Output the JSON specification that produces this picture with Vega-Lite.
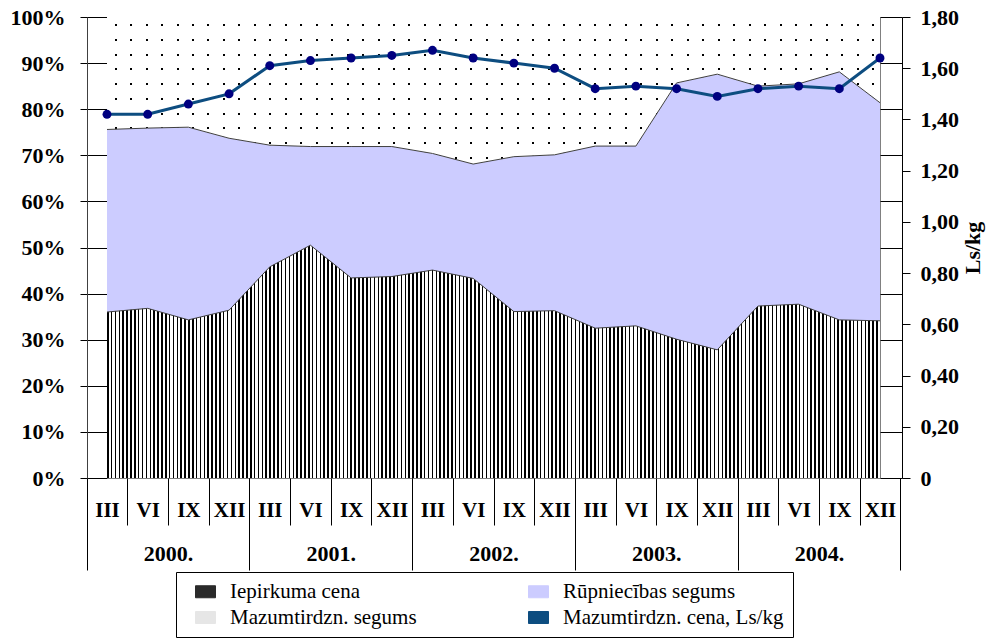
{
"$schema": "https://vega.github.io/schema/vega-lite/v6.json",
"width": 773, "height": 461,
"padding": {"left": 10, "top": 6, "right": 5, "bottom": 2},
"background": "white",
"config": {
  "view": {"stroke": "#808080", "strokeWidth": 1},
  "font": "Liberation Serif",
  "axis": {"labelFont": "Liberation Serif", "titleFont": "Liberation Serif", "labelColor": "#000", "titleColor": "#000", "tickColor": "#000", "domainColor": "#000", "grid": false}
},
"data": {"values": [
  {"periods": "2000-1", "gads": "2000", "ceturksnis": "III", "iep": 36.0, "rup": 39.6, "maz": 24.4, "cena": 1.42},
  {"periods": "2000-2", "gads": "2000", "ceturksnis": "VI", "iep": 36.8, "rup": 39.1, "maz": 24.1, "cena": 1.42},
  {"periods": "2000-3", "gads": "2000", "ceturksnis": "IX", "iep": 34.3, "rup": 41.8, "maz": 23.9, "cena": 1.46},
  {"periods": "2000-4", "gads": "2000", "ceturksnis": "XII", "iep": 36.4, "rup": 37.3, "maz": 26.3, "cena": 1.50},
  {"periods": "2001-1", "gads": "2001", "ceturksnis": "III", "iep": 45.8, "rup": 26.4, "maz": 27.8, "cena": 1.61},
  {"periods": "2001-2", "gads": "2001", "ceturksnis": "VI", "iep": 50.5, "rup": 21.4, "maz": 28.1, "cena": 1.63},
  {"periods": "2001-3", "gads": "2001", "ceturksnis": "IX", "iep": 43.4, "rup": 28.5, "maz": 28.1, "cena": 1.64},
  {"periods": "2001-4", "gads": "2001", "ceturksnis": "XII", "iep": 43.7, "rup": 28.2, "maz": 28.1, "cena": 1.65},
  {"periods": "2002-1", "gads": "2002", "ceturksnis": "III", "iep": 45.1, "rup": 25.3, "maz": 29.6, "cena": 1.67},
  {"periods": "2002-2", "gads": "2002", "ceturksnis": "VI", "iep": 43.3, "rup": 24.8, "maz": 31.9, "cena": 1.64},
  {"periods": "2002-3", "gads": "2002", "ceturksnis": "IX", "iep": 36.1, "rup": 33.6, "maz": 30.3, "cena": 1.62},
  {"periods": "2002-4", "gads": "2002", "ceturksnis": "XII", "iep": 36.3, "rup": 33.8, "maz": 29.9, "cena": 1.60},
  {"periods": "2003-1", "gads": "2003", "ceturksnis": "III", "iep": 32.5, "rup": 39.5, "maz": 28.0, "cena": 1.52},
  {"periods": "2003-2", "gads": "2003", "ceturksnis": "VI", "iep": 33.0, "rup": 39.0, "maz": 28.0, "cena": 1.53},
  {"periods": "2003-3", "gads": "2003", "ceturksnis": "IX", "iep": 30.1, "rup": 55.6, "maz": 14.3, "cena": 1.52},
  {"periods": "2003-4", "gads": "2003", "ceturksnis": "XII", "iep": 27.8, "rup": 59.8, "maz": 12.4, "cena": 1.49},
  {"periods": "2004-1", "gads": "2004", "ceturksnis": "III", "iep": 37.3, "rup": 47.7, "maz": 15.0, "cena": 1.52},
  {"periods": "2004-2", "gads": "2004", "ceturksnis": "VI", "iep": 37.7, "rup": 47.8, "maz": 14.5, "cena": 1.53},
  {"periods": "2004-3", "gads": "2004", "ceturksnis": "IX", "iep": 34.3, "rup": 53.8, "maz": 11.9, "cena": 1.52},
  {"periods": "2004-4", "gads": "2004", "ceturksnis": "XII", "iep": 34.1, "rup": 47.3, "maz": 18.6, "cena": 1.64}
]},
"layer": [
  {
    "transform": [
      {"fold": ["iep", "rup", "maz"], "as": ["serija", "vertiba"]},
      {"stack": "vertiba", "groupby": ["periods"], "as": ["v0", "v1"]}
    ],
    "mark": {"type": "area", "strokeWidth": 0, "opacity": 1},
    "encoding": {
      "x": {"field": "periods", "type": "ordinal", "sort": "ascending", "scale": {"type": "point", "padding": 0},
        "axis": {"orient": "bottom", "offset": 0, "title": null, "domain": false, "ticks": false, "labelAngle": 0, "labelOverlap": false,
          "labelExpr": "['III','VI','IX','XII'][toNumber(split(datum.value,'-')[1]) - 1]",
          "labelFont": "Liberation Serif", "labelFontWeight": "bold", "labelFontSize": 21, "labelPadding": 21}},
      "y": {"field": "v1", "type": "quantitative", "stack": null, "scale": {"domain": [0, 100], "nice": false},
        "axis": {"orient": "left", "offset": 0, "title": null, "values": [0, 10, 20, 30, 40, 50, 60, 70, 80, 90, 100],
          "labelExpr": "datum.value + '%'", "tickSize": 27, "labelPadding": 15, "domain": true, "domainColor": "#808080",
          "labelFontWeight": "bold", "labelFontSize": 22}},
      "y2": {"field": "v0"},
      "color": {"field": "serija", "type": "nominal",
        "scale": {"domain": ["iep", "maz", "rup", "cena"], "range": ["#2A2A2A", "#E6E6E6", "#CCCCFF", "#0D4D80"]},
        "legend": {"orient": "none", "legendX": 69, "legendY": 555, "columns": 2, "columnPadding": 101, "rowPadding": 4,
          "title": null, "strokeColor": "#000", "fillColor": "#fff", "padding": 9,
          "labelFont": "Liberation Serif", "labelFontSize": 21, "labelColor": "#000", "labelOffset": 14, "labelLimit": 400,
          "symbolSize": 400, "symbolOffset": 10, "symbolType": "M-1,-0.6H1V0.6H-1Z", "symbolStrokeColor": "#000", "symbolStrokeWidth": 1,
          "labelExpr": "datum.label == 'iep' ? 'Iepirkuma cena' : datum.label == 'rup' ? 'Rūpniecības segums' : datum.label == 'maz' ? 'Mazumtirdzn. segums' : 'Mazumtirdzn. cena, Ls/kg'"
        }}
    }
  },
  {
    "transform": [
      {"fold": ["iep", "rup", "maz"], "as": ["serija", "vertiba"]},
      {"stack": "vertiba", "groupby": ["periods"], "as": ["v0", "v1"]},
      {"filter": "datum.serija == 'maz'"}
    ],
    "mark": {"type": "area", "strokeWidth": 0, "fill": {"gradient": "linear", "x1": 0, "y1": 0, "x2": 1, "y2": 0, "stops": [
{"offset":0,"color":"#fff"},
{"offset":0.01,"color":"#fff"},{"offset":0.01,"color":"#000"},{"offset":0.0126,"color":"#000"},{"offset":0.0126,"color":"#fff"},
{"offset":0.03,"color":"#fff"},{"offset":0.03,"color":"#000"},{"offset":0.0326,"color":"#000"},{"offset":0.0326,"color":"#fff"},
{"offset":0.05,"color":"#fff"},{"offset":0.05,"color":"#000"},{"offset":0.0526,"color":"#000"},{"offset":0.0526,"color":"#fff"},
{"offset":0.07,"color":"#fff"},{"offset":0.07,"color":"#000"},{"offset":0.0726,"color":"#000"},{"offset":0.0726,"color":"#fff"},
{"offset":0.09,"color":"#fff"},{"offset":0.09,"color":"#000"},{"offset":0.0926,"color":"#000"},{"offset":0.0926,"color":"#fff"},
{"offset":0.11,"color":"#fff"},{"offset":0.11,"color":"#000"},{"offset":0.1126,"color":"#000"},{"offset":0.1126,"color":"#fff"},
{"offset":0.13,"color":"#fff"},{"offset":0.13,"color":"#000"},{"offset":0.1326,"color":"#000"},{"offset":0.1326,"color":"#fff"},
{"offset":0.15,"color":"#fff"},{"offset":0.15,"color":"#000"},{"offset":0.1526,"color":"#000"},{"offset":0.1526,"color":"#fff"},
{"offset":0.17,"color":"#fff"},{"offset":0.17,"color":"#000"},{"offset":0.1726,"color":"#000"},{"offset":0.1726,"color":"#fff"},
{"offset":0.19,"color":"#fff"},{"offset":0.19,"color":"#000"},{"offset":0.1926,"color":"#000"},{"offset":0.1926,"color":"#fff"},
{"offset":0.21,"color":"#fff"},{"offset":0.21,"color":"#000"},{"offset":0.2126,"color":"#000"},{"offset":0.2126,"color":"#fff"},
{"offset":0.23,"color":"#fff"},{"offset":0.23,"color":"#000"},{"offset":0.2326,"color":"#000"},{"offset":0.2326,"color":"#fff"},
{"offset":0.25,"color":"#fff"},{"offset":0.25,"color":"#000"},{"offset":0.2526,"color":"#000"},{"offset":0.2526,"color":"#fff"},
{"offset":0.27,"color":"#fff"},{"offset":0.27,"color":"#000"},{"offset":0.2726,"color":"#000"},{"offset":0.2726,"color":"#fff"},
{"offset":0.29,"color":"#fff"},{"offset":0.29,"color":"#000"},{"offset":0.2926,"color":"#000"},{"offset":0.2926,"color":"#fff"},
{"offset":0.31,"color":"#fff"},{"offset":0.31,"color":"#000"},{"offset":0.3126,"color":"#000"},{"offset":0.3126,"color":"#fff"},
{"offset":0.33,"color":"#fff"},{"offset":0.33,"color":"#000"},{"offset":0.3326,"color":"#000"},{"offset":0.3326,"color":"#fff"},
{"offset":0.35,"color":"#fff"},{"offset":0.35,"color":"#000"},{"offset":0.3526,"color":"#000"},{"offset":0.3526,"color":"#fff"},
{"offset":0.37,"color":"#fff"},{"offset":0.37,"color":"#000"},{"offset":0.3726,"color":"#000"},{"offset":0.3726,"color":"#fff"},
{"offset":0.39,"color":"#fff"},{"offset":0.39,"color":"#000"},{"offset":0.3926,"color":"#000"},{"offset":0.3926,"color":"#fff"},
{"offset":0.41,"color":"#fff"},{"offset":0.41,"color":"#000"},{"offset":0.4126,"color":"#000"},{"offset":0.4126,"color":"#fff"},
{"offset":0.43,"color":"#fff"},{"offset":0.43,"color":"#000"},{"offset":0.4326,"color":"#000"},{"offset":0.4326,"color":"#fff"},
{"offset":0.45,"color":"#fff"},{"offset":0.45,"color":"#000"},{"offset":0.4526,"color":"#000"},{"offset":0.4526,"color":"#fff"},
{"offset":0.47,"color":"#fff"},{"offset":0.47,"color":"#000"},{"offset":0.4726,"color":"#000"},{"offset":0.4726,"color":"#fff"},
{"offset":0.49,"color":"#fff"},{"offset":0.49,"color":"#000"},{"offset":0.4926,"color":"#000"},{"offset":0.4926,"color":"#fff"},
{"offset":0.51,"color":"#fff"},{"offset":0.51,"color":"#000"},{"offset":0.5126,"color":"#000"},{"offset":0.5126,"color":"#fff"},
{"offset":0.53,"color":"#fff"},{"offset":0.53,"color":"#000"},{"offset":0.5326,"color":"#000"},{"offset":0.5326,"color":"#fff"},
{"offset":0.55,"color":"#fff"},{"offset":0.55,"color":"#000"},{"offset":0.5526,"color":"#000"},{"offset":0.5526,"color":"#fff"},
{"offset":0.57,"color":"#fff"},{"offset":0.57,"color":"#000"},{"offset":0.5726,"color":"#000"},{"offset":0.5726,"color":"#fff"},
{"offset":0.59,"color":"#fff"},{"offset":0.59,"color":"#000"},{"offset":0.5926,"color":"#000"},{"offset":0.5926,"color":"#fff"},
{"offset":0.61,"color":"#fff"},{"offset":0.61,"color":"#000"},{"offset":0.6126,"color":"#000"},{"offset":0.6126,"color":"#fff"},
{"offset":0.63,"color":"#fff"},{"offset":0.63,"color":"#000"},{"offset":0.6326,"color":"#000"},{"offset":0.6326,"color":"#fff"},
{"offset":0.65,"color":"#fff"},{"offset":0.65,"color":"#000"},{"offset":0.6526,"color":"#000"},{"offset":0.6526,"color":"#fff"},
{"offset":0.67,"color":"#fff"},{"offset":0.67,"color":"#000"},{"offset":0.6726,"color":"#000"},{"offset":0.6726,"color":"#fff"},
{"offset":0.69,"color":"#fff"},{"offset":0.69,"color":"#000"},{"offset":0.6926,"color":"#000"},{"offset":0.6926,"color":"#fff"},
{"offset":0.71,"color":"#fff"},{"offset":0.71,"color":"#000"},{"offset":0.7126,"color":"#000"},{"offset":0.7126,"color":"#fff"},
{"offset":0.73,"color":"#fff"},{"offset":0.73,"color":"#000"},{"offset":0.7326,"color":"#000"},{"offset":0.7326,"color":"#fff"},
{"offset":0.75,"color":"#fff"},{"offset":0.75,"color":"#000"},{"offset":0.7526,"color":"#000"},{"offset":0.7526,"color":"#fff"},
{"offset":0.77,"color":"#fff"},{"offset":0.77,"color":"#000"},{"offset":0.7726,"color":"#000"},{"offset":0.7726,"color":"#fff"},
{"offset":0.79,"color":"#fff"},{"offset":0.79,"color":"#000"},{"offset":0.7926,"color":"#000"},{"offset":0.7926,"color":"#fff"},
{"offset":0.81,"color":"#fff"},{"offset":0.81,"color":"#000"},{"offset":0.8126,"color":"#000"},{"offset":0.8126,"color":"#fff"},
{"offset":0.83,"color":"#fff"},{"offset":0.83,"color":"#000"},{"offset":0.8326,"color":"#000"},{"offset":0.8326,"color":"#fff"},
{"offset":0.85,"color":"#fff"},{"offset":0.85,"color":"#000"},{"offset":0.8526,"color":"#000"},{"offset":0.8526,"color":"#fff"},
{"offset":0.87,"color":"#fff"},{"offset":0.87,"color":"#000"},{"offset":0.8726,"color":"#000"},{"offset":0.8726,"color":"#fff"},
{"offset":0.89,"color":"#fff"},{"offset":0.89,"color":"#000"},{"offset":0.8926,"color":"#000"},{"offset":0.8926,"color":"#fff"},
{"offset":0.91,"color":"#fff"},{"offset":0.91,"color":"#000"},{"offset":0.9126,"color":"#000"},{"offset":0.9126,"color":"#fff"},
{"offset":0.93,"color":"#fff"},{"offset":0.93,"color":"#000"},{"offset":0.9326,"color":"#000"},{"offset":0.9326,"color":"#fff"},
{"offset":0.95,"color":"#fff"},{"offset":0.95,"color":"#000"},{"offset":0.9526,"color":"#000"},{"offset":0.9526,"color":"#fff"},
{"offset":0.97,"color":"#fff"},{"offset":0.97,"color":"#000"},{"offset":0.9726,"color":"#000"},{"offset":0.9726,"color":"#fff"},
{"offset":0.99,"color":"#fff"},{"offset":0.99,"color":"#000"},{"offset":0.9926,"color":"#000"},{"offset":0.9926,"color":"#fff"},
{"offset":1,"color":"#fff"}
    ]}},
    "encoding": {
      "x": {"field": "periods", "type": "ordinal", "sort": "ascending", "scale": {"type": "point", "padding": 0}, "axis": null},
      "y": {"field": "v1", "type": "quantitative", "stack": null, "scale": {"domain": [0, 100], "nice": false}, "axis": null},
      "y2": {"field": "v0"}
    }
  },
  {
    "transform": [
      {"fold": ["iep", "rup", "maz"], "as": ["serija", "vertiba"]},
      {"stack": "vertiba", "groupby": ["periods"], "as": ["v0", "v1"]},
      {"filter": "datum.serija == 'maz'"}
    ],
    "mark": {"type": "area", "strokeWidth": 0, "fill": {"gradient": "linear", "x1": 0, "y1": 0, "x2": 0, "y2": 1, "stops": [
{"offset":0,"color":"#fff"},
{"offset":0.05,"color":"#fff"},{"offset":0.05,"color":"transparent"},{"offset":0.0636,"color":"transparent"},{"offset":0.0636,"color":"#fff"},
{"offset":0.15,"color":"#fff"},{"offset":0.15,"color":"transparent"},{"offset":0.1636,"color":"transparent"},{"offset":0.1636,"color":"#fff"},
{"offset":0.25,"color":"#fff"},{"offset":0.25,"color":"transparent"},{"offset":0.2636,"color":"transparent"},{"offset":0.2636,"color":"#fff"},
{"offset":0.35,"color":"#fff"},{"offset":0.35,"color":"transparent"},{"offset":0.3636,"color":"transparent"},{"offset":0.3636,"color":"#fff"},
{"offset":0.45,"color":"#fff"},{"offset":0.45,"color":"transparent"},{"offset":0.4636,"color":"transparent"},{"offset":0.4636,"color":"#fff"},
{"offset":0.55,"color":"#fff"},{"offset":0.55,"color":"transparent"},{"offset":0.5636,"color":"transparent"},{"offset":0.5636,"color":"#fff"},
{"offset":0.65,"color":"#fff"},{"offset":0.65,"color":"transparent"},{"offset":0.6636,"color":"transparent"},{"offset":0.6636,"color":"#fff"},
{"offset":0.75,"color":"#fff"},{"offset":0.75,"color":"transparent"},{"offset":0.7636,"color":"transparent"},{"offset":0.7636,"color":"#fff"},
{"offset":0.85,"color":"#fff"},{"offset":0.85,"color":"transparent"},{"offset":0.8636,"color":"transparent"},{"offset":0.8636,"color":"#fff"},
{"offset":0.95,"color":"#fff"},{"offset":0.95,"color":"transparent"},{"offset":0.9636,"color":"transparent"},{"offset":0.9636,"color":"#fff"},
{"offset":1,"color":"#fff"}
    ]}},
    "encoding": {
      "x": {"field": "periods", "type": "ordinal", "sort": "ascending", "scale": {"type": "point", "padding": 0}, "axis": null},
      "y": {"field": "v1", "type": "quantitative", "stack": null, "scale": {"domain": [0, 100], "nice": false}, "axis": null},
      "y2": {"field": "v0"}
    }
  },
  {
    "mark": {"type": "area", "strokeWidth": 0, "fill": {"gradient": "linear", "x1": 0, "y1": 0, "x2": 1, "y2": 0, "stops": [
{"offset":0.000,"color":"#000"},{"offset":0.002,"color":"#000"},{"offset":0.002,"color":"#fff"},{"offset":0.005,"color":"#fff"},{"offset":0.005,"color":"#000"},{"offset":0.007,"color":"#000"},{"offset":0.007,"color":"#fff"},{"offset":0.010,"color":"#fff"},
{"offset":0.010,"color":"#000"},{"offset":0.012,"color":"#000"},{"offset":0.012,"color":"#fff"},{"offset":0.015,"color":"#fff"},{"offset":0.015,"color":"#000"},{"offset":0.017,"color":"#000"},{"offset":0.017,"color":"#fff"},{"offset":0.020,"color":"#fff"},
{"offset":0.020,"color":"#000"},{"offset":0.022,"color":"#000"},{"offset":0.022,"color":"#fff"},{"offset":0.025,"color":"#fff"},{"offset":0.025,"color":"#000"},{"offset":0.027,"color":"#000"},{"offset":0.027,"color":"#fff"},{"offset":0.030,"color":"#fff"},
{"offset":0.030,"color":"#000"},{"offset":0.032,"color":"#000"},{"offset":0.032,"color":"#fff"},{"offset":0.035,"color":"#fff"},{"offset":0.035,"color":"#000"},{"offset":0.037,"color":"#000"},{"offset":0.037,"color":"#fff"},{"offset":0.040,"color":"#fff"},
{"offset":0.040,"color":"#000"},{"offset":0.042,"color":"#000"},{"offset":0.042,"color":"#fff"},{"offset":0.045,"color":"#fff"},{"offset":0.045,"color":"#000"},{"offset":0.047,"color":"#000"},{"offset":0.047,"color":"#fff"},{"offset":0.050,"color":"#fff"},
{"offset":0.050,"color":"#000"},{"offset":0.052,"color":"#000"},{"offset":0.052,"color":"#fff"},{"offset":0.055,"color":"#fff"},{"offset":0.055,"color":"#000"},{"offset":0.057,"color":"#000"},{"offset":0.057,"color":"#fff"},{"offset":0.060,"color":"#fff"},
{"offset":0.060,"color":"#000"},{"offset":0.062,"color":"#000"},{"offset":0.062,"color":"#fff"},{"offset":0.065,"color":"#fff"},{"offset":0.065,"color":"#000"},{"offset":0.067,"color":"#000"},{"offset":0.067,"color":"#fff"},{"offset":0.070,"color":"#fff"},
{"offset":0.070,"color":"#000"},{"offset":0.072,"color":"#000"},{"offset":0.072,"color":"#fff"},{"offset":0.075,"color":"#fff"},{"offset":0.075,"color":"#000"},{"offset":0.077,"color":"#000"},{"offset":0.077,"color":"#fff"},{"offset":0.080,"color":"#fff"},
{"offset":0.080,"color":"#000"},{"offset":0.082,"color":"#000"},{"offset":0.082,"color":"#fff"},{"offset":0.085,"color":"#fff"},{"offset":0.085,"color":"#000"},{"offset":0.087,"color":"#000"},{"offset":0.087,"color":"#fff"},{"offset":0.090,"color":"#fff"},
{"offset":0.090,"color":"#000"},{"offset":0.092,"color":"#000"},{"offset":0.092,"color":"#fff"},{"offset":0.095,"color":"#fff"},{"offset":0.095,"color":"#000"},{"offset":0.097,"color":"#000"},{"offset":0.097,"color":"#fff"},{"offset":0.100,"color":"#fff"},
{"offset":0.100,"color":"#000"},{"offset":0.102,"color":"#000"},{"offset":0.102,"color":"#fff"},{"offset":0.105,"color":"#fff"},{"offset":0.105,"color":"#000"},{"offset":0.107,"color":"#000"},{"offset":0.107,"color":"#fff"},{"offset":0.110,"color":"#fff"},
{"offset":0.110,"color":"#000"},{"offset":0.112,"color":"#000"},{"offset":0.112,"color":"#fff"},{"offset":0.115,"color":"#fff"},{"offset":0.115,"color":"#000"},{"offset":0.117,"color":"#000"},{"offset":0.117,"color":"#fff"},{"offset":0.120,"color":"#fff"},
{"offset":0.120,"color":"#000"},{"offset":0.122,"color":"#000"},{"offset":0.122,"color":"#fff"},{"offset":0.125,"color":"#fff"},{"offset":0.125,"color":"#000"},{"offset":0.127,"color":"#000"},{"offset":0.127,"color":"#fff"},{"offset":0.130,"color":"#fff"},
{"offset":0.130,"color":"#000"},{"offset":0.132,"color":"#000"},{"offset":0.132,"color":"#fff"},{"offset":0.135,"color":"#fff"},{"offset":0.135,"color":"#000"},{"offset":0.137,"color":"#000"},{"offset":0.137,"color":"#fff"},{"offset":0.140,"color":"#fff"},
{"offset":0.140,"color":"#000"},{"offset":0.142,"color":"#000"},{"offset":0.142,"color":"#fff"},{"offset":0.145,"color":"#fff"},{"offset":0.145,"color":"#000"},{"offset":0.147,"color":"#000"},{"offset":0.147,"color":"#fff"},{"offset":0.150,"color":"#fff"},
{"offset":0.150,"color":"#000"},{"offset":0.152,"color":"#000"},{"offset":0.152,"color":"#fff"},{"offset":0.155,"color":"#fff"},{"offset":0.155,"color":"#000"},{"offset":0.157,"color":"#000"},{"offset":0.157,"color":"#fff"},{"offset":0.160,"color":"#fff"},
{"offset":0.160,"color":"#000"},{"offset":0.162,"color":"#000"},{"offset":0.162,"color":"#fff"},{"offset":0.165,"color":"#fff"},{"offset":0.165,"color":"#000"},{"offset":0.167,"color":"#000"},{"offset":0.167,"color":"#fff"},{"offset":0.170,"color":"#fff"},
{"offset":0.170,"color":"#000"},{"offset":0.172,"color":"#000"},{"offset":0.172,"color":"#fff"},{"offset":0.175,"color":"#fff"},{"offset":0.175,"color":"#000"},{"offset":0.177,"color":"#000"},{"offset":0.177,"color":"#fff"},{"offset":0.180,"color":"#fff"},
{"offset":0.180,"color":"#000"},{"offset":0.182,"color":"#000"},{"offset":0.182,"color":"#fff"},{"offset":0.185,"color":"#fff"},{"offset":0.185,"color":"#000"},{"offset":0.187,"color":"#000"},{"offset":0.187,"color":"#fff"},{"offset":0.190,"color":"#fff"},
{"offset":0.190,"color":"#000"},{"offset":0.192,"color":"#000"},{"offset":0.192,"color":"#fff"},{"offset":0.195,"color":"#fff"},{"offset":0.195,"color":"#000"},{"offset":0.197,"color":"#000"},{"offset":0.197,"color":"#fff"},{"offset":0.200,"color":"#fff"},
{"offset":0.200,"color":"#000"},{"offset":0.202,"color":"#000"},{"offset":0.202,"color":"#fff"},{"offset":0.205,"color":"#fff"},{"offset":0.205,"color":"#000"},{"offset":0.207,"color":"#000"},{"offset":0.207,"color":"#fff"},{"offset":0.210,"color":"#fff"},
{"offset":0.210,"color":"#000"},{"offset":0.212,"color":"#000"},{"offset":0.212,"color":"#fff"},{"offset":0.215,"color":"#fff"},{"offset":0.215,"color":"#000"},{"offset":0.217,"color":"#000"},{"offset":0.217,"color":"#fff"},{"offset":0.220,"color":"#fff"},
{"offset":0.220,"color":"#000"},{"offset":0.222,"color":"#000"},{"offset":0.222,"color":"#fff"},{"offset":0.225,"color":"#fff"},{"offset":0.225,"color":"#000"},{"offset":0.227,"color":"#000"},{"offset":0.227,"color":"#fff"},{"offset":0.230,"color":"#fff"},
{"offset":0.230,"color":"#000"},{"offset":0.232,"color":"#000"},{"offset":0.232,"color":"#fff"},{"offset":0.235,"color":"#fff"},{"offset":0.235,"color":"#000"},{"offset":0.237,"color":"#000"},{"offset":0.237,"color":"#fff"},{"offset":0.240,"color":"#fff"},
{"offset":0.240,"color":"#000"},{"offset":0.242,"color":"#000"},{"offset":0.242,"color":"#fff"},{"offset":0.245,"color":"#fff"},{"offset":0.245,"color":"#000"},{"offset":0.247,"color":"#000"},{"offset":0.247,"color":"#fff"},{"offset":0.250,"color":"#fff"},
{"offset":0.250,"color":"#000"},{"offset":0.252,"color":"#000"},{"offset":0.252,"color":"#fff"},{"offset":0.255,"color":"#fff"},{"offset":0.255,"color":"#000"},{"offset":0.257,"color":"#000"},{"offset":0.257,"color":"#fff"},{"offset":0.260,"color":"#fff"},
{"offset":0.260,"color":"#000"},{"offset":0.262,"color":"#000"},{"offset":0.262,"color":"#fff"},{"offset":0.265,"color":"#fff"},{"offset":0.265,"color":"#000"},{"offset":0.267,"color":"#000"},{"offset":0.267,"color":"#fff"},{"offset":0.270,"color":"#fff"},
{"offset":0.270,"color":"#000"},{"offset":0.272,"color":"#000"},{"offset":0.272,"color":"#fff"},{"offset":0.275,"color":"#fff"},{"offset":0.275,"color":"#000"},{"offset":0.277,"color":"#000"},{"offset":0.277,"color":"#fff"},{"offset":0.280,"color":"#fff"},
{"offset":0.280,"color":"#000"},{"offset":0.282,"color":"#000"},{"offset":0.282,"color":"#fff"},{"offset":0.285,"color":"#fff"},{"offset":0.285,"color":"#000"},{"offset":0.287,"color":"#000"},{"offset":0.287,"color":"#fff"},{"offset":0.290,"color":"#fff"},
{"offset":0.290,"color":"#000"},{"offset":0.292,"color":"#000"},{"offset":0.292,"color":"#fff"},{"offset":0.295,"color":"#fff"},{"offset":0.295,"color":"#000"},{"offset":0.297,"color":"#000"},{"offset":0.297,"color":"#fff"},{"offset":0.300,"color":"#fff"},
{"offset":0.300,"color":"#000"},{"offset":0.302,"color":"#000"},{"offset":0.302,"color":"#fff"},{"offset":0.305,"color":"#fff"},{"offset":0.305,"color":"#000"},{"offset":0.307,"color":"#000"},{"offset":0.307,"color":"#fff"},{"offset":0.310,"color":"#fff"},
{"offset":0.310,"color":"#000"},{"offset":0.312,"color":"#000"},{"offset":0.312,"color":"#fff"},{"offset":0.315,"color":"#fff"},{"offset":0.315,"color":"#000"},{"offset":0.317,"color":"#000"},{"offset":0.317,"color":"#fff"},{"offset":0.320,"color":"#fff"},
{"offset":0.320,"color":"#000"},{"offset":0.322,"color":"#000"},{"offset":0.322,"color":"#fff"},{"offset":0.325,"color":"#fff"},{"offset":0.325,"color":"#000"},{"offset":0.327,"color":"#000"},{"offset":0.327,"color":"#fff"},{"offset":0.330,"color":"#fff"},
{"offset":0.330,"color":"#000"},{"offset":0.332,"color":"#000"},{"offset":0.332,"color":"#fff"},{"offset":0.335,"color":"#fff"},{"offset":0.335,"color":"#000"},{"offset":0.337,"color":"#000"},{"offset":0.337,"color":"#fff"},{"offset":0.340,"color":"#fff"},
{"offset":0.340,"color":"#000"},{"offset":0.342,"color":"#000"},{"offset":0.342,"color":"#fff"},{"offset":0.345,"color":"#fff"},{"offset":0.345,"color":"#000"},{"offset":0.347,"color":"#000"},{"offset":0.347,"color":"#fff"},{"offset":0.350,"color":"#fff"},
{"offset":0.350,"color":"#000"},{"offset":0.352,"color":"#000"},{"offset":0.352,"color":"#fff"},{"offset":0.355,"color":"#fff"},{"offset":0.355,"color":"#000"},{"offset":0.357,"color":"#000"},{"offset":0.357,"color":"#fff"},{"offset":0.360,"color":"#fff"},
{"offset":0.360,"color":"#000"},{"offset":0.362,"color":"#000"},{"offset":0.362,"color":"#fff"},{"offset":0.365,"color":"#fff"},{"offset":0.365,"color":"#000"},{"offset":0.367,"color":"#000"},{"offset":0.367,"color":"#fff"},{"offset":0.370,"color":"#fff"},
{"offset":0.370,"color":"#000"},{"offset":0.372,"color":"#000"},{"offset":0.372,"color":"#fff"},{"offset":0.375,"color":"#fff"},{"offset":0.375,"color":"#000"},{"offset":0.377,"color":"#000"},{"offset":0.377,"color":"#fff"},{"offset":0.380,"color":"#fff"},
{"offset":0.380,"color":"#000"},{"offset":0.382,"color":"#000"},{"offset":0.382,"color":"#fff"},{"offset":0.385,"color":"#fff"},{"offset":0.385,"color":"#000"},{"offset":0.387,"color":"#000"},{"offset":0.387,"color":"#fff"},{"offset":0.390,"color":"#fff"},
{"offset":0.390,"color":"#000"},{"offset":0.392,"color":"#000"},{"offset":0.392,"color":"#fff"},{"offset":0.395,"color":"#fff"},{"offset":0.395,"color":"#000"},{"offset":0.397,"color":"#000"},{"offset":0.397,"color":"#fff"},{"offset":0.400,"color":"#fff"},
{"offset":0.400,"color":"#000"},{"offset":0.402,"color":"#000"},{"offset":0.402,"color":"#fff"},{"offset":0.405,"color":"#fff"},{"offset":0.405,"color":"#000"},{"offset":0.407,"color":"#000"},{"offset":0.407,"color":"#fff"},{"offset":0.410,"color":"#fff"},
{"offset":0.410,"color":"#000"},{"offset":0.412,"color":"#000"},{"offset":0.412,"color":"#fff"},{"offset":0.415,"color":"#fff"},{"offset":0.415,"color":"#000"},{"offset":0.417,"color":"#000"},{"offset":0.417,"color":"#fff"},{"offset":0.420,"color":"#fff"},
{"offset":0.420,"color":"#000"},{"offset":0.422,"color":"#000"},{"offset":0.422,"color":"#fff"},{"offset":0.425,"color":"#fff"},{"offset":0.425,"color":"#000"},{"offset":0.427,"color":"#000"},{"offset":0.427,"color":"#fff"},{"offset":0.430,"color":"#fff"},
{"offset":0.430,"color":"#000"},{"offset":0.432,"color":"#000"},{"offset":0.432,"color":"#fff"},{"offset":0.435,"color":"#fff"},{"offset":0.435,"color":"#000"},{"offset":0.437,"color":"#000"},{"offset":0.437,"color":"#fff"},{"offset":0.440,"color":"#fff"},
{"offset":0.440,"color":"#000"},{"offset":0.442,"color":"#000"},{"offset":0.442,"color":"#fff"},{"offset":0.445,"color":"#fff"},{"offset":0.445,"color":"#000"},{"offset":0.447,"color":"#000"},{"offset":0.447,"color":"#fff"},{"offset":0.450,"color":"#fff"},
{"offset":0.450,"color":"#000"},{"offset":0.452,"color":"#000"},{"offset":0.452,"color":"#fff"},{"offset":0.455,"color":"#fff"},{"offset":0.455,"color":"#000"},{"offset":0.457,"color":"#000"},{"offset":0.457,"color":"#fff"},{"offset":0.460,"color":"#fff"},
{"offset":0.460,"color":"#000"},{"offset":0.462,"color":"#000"},{"offset":0.462,"color":"#fff"},{"offset":0.465,"color":"#fff"},{"offset":0.465,"color":"#000"},{"offset":0.467,"color":"#000"},{"offset":0.467,"color":"#fff"},{"offset":0.470,"color":"#fff"},
{"offset":0.470,"color":"#000"},{"offset":0.472,"color":"#000"},{"offset":0.472,"color":"#fff"},{"offset":0.475,"color":"#fff"},{"offset":0.475,"color":"#000"},{"offset":0.477,"color":"#000"},{"offset":0.477,"color":"#fff"},{"offset":0.480,"color":"#fff"},
{"offset":0.480,"color":"#000"},{"offset":0.482,"color":"#000"},{"offset":0.482,"color":"#fff"},{"offset":0.485,"color":"#fff"},{"offset":0.485,"color":"#000"},{"offset":0.487,"color":"#000"},{"offset":0.487,"color":"#fff"},{"offset":0.490,"color":"#fff"},
{"offset":0.490,"color":"#000"},{"offset":0.492,"color":"#000"},{"offset":0.492,"color":"#fff"},{"offset":0.495,"color":"#fff"},{"offset":0.495,"color":"#000"},{"offset":0.497,"color":"#000"},{"offset":0.497,"color":"#fff"},{"offset":0.500,"color":"#fff"},
{"offset":0.500,"color":"#000"},{"offset":0.502,"color":"#000"},{"offset":0.502,"color":"#fff"},{"offset":0.505,"color":"#fff"},{"offset":0.505,"color":"#000"},{"offset":0.507,"color":"#000"},{"offset":0.507,"color":"#fff"},{"offset":0.510,"color":"#fff"},
{"offset":0.510,"color":"#000"},{"offset":0.512,"color":"#000"},{"offset":0.512,"color":"#fff"},{"offset":0.515,"color":"#fff"},{"offset":0.515,"color":"#000"},{"offset":0.517,"color":"#000"},{"offset":0.517,"color":"#fff"},{"offset":0.520,"color":"#fff"},
{"offset":0.520,"color":"#000"},{"offset":0.522,"color":"#000"},{"offset":0.522,"color":"#fff"},{"offset":0.525,"color":"#fff"},{"offset":0.525,"color":"#000"},{"offset":0.527,"color":"#000"},{"offset":0.527,"color":"#fff"},{"offset":0.530,"color":"#fff"},
{"offset":0.530,"color":"#000"},{"offset":0.532,"color":"#000"},{"offset":0.532,"color":"#fff"},{"offset":0.535,"color":"#fff"},{"offset":0.535,"color":"#000"},{"offset":0.537,"color":"#000"},{"offset":0.537,"color":"#fff"},{"offset":0.540,"color":"#fff"},
{"offset":0.540,"color":"#000"},{"offset":0.542,"color":"#000"},{"offset":0.542,"color":"#fff"},{"offset":0.545,"color":"#fff"},{"offset":0.545,"color":"#000"},{"offset":0.547,"color":"#000"},{"offset":0.547,"color":"#fff"},{"offset":0.550,"color":"#fff"},
{"offset":0.550,"color":"#000"},{"offset":0.552,"color":"#000"},{"offset":0.552,"color":"#fff"},{"offset":0.555,"color":"#fff"},{"offset":0.555,"color":"#000"},{"offset":0.557,"color":"#000"},{"offset":0.557,"color":"#fff"},{"offset":0.560,"color":"#fff"},
{"offset":0.560,"color":"#000"},{"offset":0.562,"color":"#000"},{"offset":0.562,"color":"#fff"},{"offset":0.565,"color":"#fff"},{"offset":0.565,"color":"#000"},{"offset":0.567,"color":"#000"},{"offset":0.567,"color":"#fff"},{"offset":0.570,"color":"#fff"},
{"offset":0.570,"color":"#000"},{"offset":0.572,"color":"#000"},{"offset":0.572,"color":"#fff"},{"offset":0.575,"color":"#fff"},{"offset":0.575,"color":"#000"},{"offset":0.577,"color":"#000"},{"offset":0.577,"color":"#fff"},{"offset":0.580,"color":"#fff"},
{"offset":0.580,"color":"#000"},{"offset":0.582,"color":"#000"},{"offset":0.582,"color":"#fff"},{"offset":0.585,"color":"#fff"},{"offset":0.585,"color":"#000"},{"offset":0.587,"color":"#000"},{"offset":0.587,"color":"#fff"},{"offset":0.590,"color":"#fff"},
{"offset":0.590,"color":"#000"},{"offset":0.592,"color":"#000"},{"offset":0.592,"color":"#fff"},{"offset":0.595,"color":"#fff"},{"offset":0.595,"color":"#000"},{"offset":0.597,"color":"#000"},{"offset":0.597,"color":"#fff"},{"offset":0.600,"color":"#fff"},
{"offset":0.600,"color":"#000"},{"offset":0.602,"color":"#000"},{"offset":0.602,"color":"#fff"},{"offset":0.605,"color":"#fff"},{"offset":0.605,"color":"#000"},{"offset":0.607,"color":"#000"},{"offset":0.607,"color":"#fff"},{"offset":0.610,"color":"#fff"},
{"offset":0.610,"color":"#000"},{"offset":0.612,"color":"#000"},{"offset":0.612,"color":"#fff"},{"offset":0.615,"color":"#fff"},{"offset":0.615,"color":"#000"},{"offset":0.617,"color":"#000"},{"offset":0.617,"color":"#fff"},{"offset":0.620,"color":"#fff"},
{"offset":0.620,"color":"#000"},{"offset":0.622,"color":"#000"},{"offset":0.622,"color":"#fff"},{"offset":0.625,"color":"#fff"},{"offset":0.625,"color":"#000"},{"offset":0.627,"color":"#000"},{"offset":0.627,"color":"#fff"},{"offset":0.630,"color":"#fff"},
{"offset":0.630,"color":"#000"},{"offset":0.632,"color":"#000"},{"offset":0.632,"color":"#fff"},{"offset":0.635,"color":"#fff"},{"offset":0.635,"color":"#000"},{"offset":0.637,"color":"#000"},{"offset":0.637,"color":"#fff"},{"offset":0.640,"color":"#fff"},
{"offset":0.640,"color":"#000"},{"offset":0.642,"color":"#000"},{"offset":0.642,"color":"#fff"},{"offset":0.645,"color":"#fff"},{"offset":0.645,"color":"#000"},{"offset":0.647,"color":"#000"},{"offset":0.647,"color":"#fff"},{"offset":0.650,"color":"#fff"},
{"offset":0.650,"color":"#000"},{"offset":0.652,"color":"#000"},{"offset":0.652,"color":"#fff"},{"offset":0.655,"color":"#fff"},{"offset":0.655,"color":"#000"},{"offset":0.657,"color":"#000"},{"offset":0.657,"color":"#fff"},{"offset":0.660,"color":"#fff"},
{"offset":0.660,"color":"#000"},{"offset":0.662,"color":"#000"},{"offset":0.662,"color":"#fff"},{"offset":0.665,"color":"#fff"},{"offset":0.665,"color":"#000"},{"offset":0.667,"color":"#000"},{"offset":0.667,"color":"#fff"},{"offset":0.670,"color":"#fff"},
{"offset":0.670,"color":"#000"},{"offset":0.672,"color":"#000"},{"offset":0.672,"color":"#fff"},{"offset":0.675,"color":"#fff"},{"offset":0.675,"color":"#000"},{"offset":0.677,"color":"#000"},{"offset":0.677,"color":"#fff"},{"offset":0.680,"color":"#fff"},
{"offset":0.680,"color":"#000"},{"offset":0.682,"color":"#000"},{"offset":0.682,"color":"#fff"},{"offset":0.685,"color":"#fff"},{"offset":0.685,"color":"#000"},{"offset":0.687,"color":"#000"},{"offset":0.687,"color":"#fff"},{"offset":0.690,"color":"#fff"},
{"offset":0.690,"color":"#000"},{"offset":0.692,"color":"#000"},{"offset":0.692,"color":"#fff"},{"offset":0.695,"color":"#fff"},{"offset":0.695,"color":"#000"},{"offset":0.697,"color":"#000"},{"offset":0.697,"color":"#fff"},{"offset":0.700,"color":"#fff"},
{"offset":0.700,"color":"#000"},{"offset":0.702,"color":"#000"},{"offset":0.702,"color":"#fff"},{"offset":0.705,"color":"#fff"},{"offset":0.705,"color":"#000"},{"offset":0.707,"color":"#000"},{"offset":0.707,"color":"#fff"},{"offset":0.710,"color":"#fff"},
{"offset":0.710,"color":"#000"},{"offset":0.712,"color":"#000"},{"offset":0.712,"color":"#fff"},{"offset":0.715,"color":"#fff"},{"offset":0.715,"color":"#000"},{"offset":0.717,"color":"#000"},{"offset":0.717,"color":"#fff"},{"offset":0.720,"color":"#fff"},
{"offset":0.720,"color":"#000"},{"offset":0.722,"color":"#000"},{"offset":0.722,"color":"#fff"},{"offset":0.725,"color":"#fff"},{"offset":0.725,"color":"#000"},{"offset":0.727,"color":"#000"},{"offset":0.727,"color":"#fff"},{"offset":0.730,"color":"#fff"},
{"offset":0.730,"color":"#000"},{"offset":0.732,"color":"#000"},{"offset":0.732,"color":"#fff"},{"offset":0.735,"color":"#fff"},{"offset":0.735,"color":"#000"},{"offset":0.737,"color":"#000"},{"offset":0.737,"color":"#fff"},{"offset":0.740,"color":"#fff"},
{"offset":0.740,"color":"#000"},{"offset":0.742,"color":"#000"},{"offset":0.742,"color":"#fff"},{"offset":0.745,"color":"#fff"},{"offset":0.745,"color":"#000"},{"offset":0.747,"color":"#000"},{"offset":0.747,"color":"#fff"},{"offset":0.750,"color":"#fff"},
{"offset":0.750,"color":"#000"},{"offset":0.752,"color":"#000"},{"offset":0.752,"color":"#fff"},{"offset":0.755,"color":"#fff"},{"offset":0.755,"color":"#000"},{"offset":0.757,"color":"#000"},{"offset":0.757,"color":"#fff"},{"offset":0.760,"color":"#fff"},
{"offset":0.760,"color":"#000"},{"offset":0.762,"color":"#000"},{"offset":0.762,"color":"#fff"},{"offset":0.765,"color":"#fff"},{"offset":0.765,"color":"#000"},{"offset":0.767,"color":"#000"},{"offset":0.767,"color":"#fff"},{"offset":0.770,"color":"#fff"},
{"offset":0.770,"color":"#000"},{"offset":0.772,"color":"#000"},{"offset":0.772,"color":"#fff"},{"offset":0.775,"color":"#fff"},{"offset":0.775,"color":"#000"},{"offset":0.777,"color":"#000"},{"offset":0.777,"color":"#fff"},{"offset":0.780,"color":"#fff"},
{"offset":0.780,"color":"#000"},{"offset":0.782,"color":"#000"},{"offset":0.782,"color":"#fff"},{"offset":0.785,"color":"#fff"},{"offset":0.785,"color":"#000"},{"offset":0.787,"color":"#000"},{"offset":0.787,"color":"#fff"},{"offset":0.790,"color":"#fff"},
{"offset":0.790,"color":"#000"},{"offset":0.792,"color":"#000"},{"offset":0.792,"color":"#fff"},{"offset":0.795,"color":"#fff"},{"offset":0.795,"color":"#000"},{"offset":0.797,"color":"#000"},{"offset":0.797,"color":"#fff"},{"offset":0.800,"color":"#fff"},
{"offset":0.800,"color":"#000"},{"offset":0.802,"color":"#000"},{"offset":0.802,"color":"#fff"},{"offset":0.805,"color":"#fff"},{"offset":0.805,"color":"#000"},{"offset":0.807,"color":"#000"},{"offset":0.807,"color":"#fff"},{"offset":0.810,"color":"#fff"},
{"offset":0.810,"color":"#000"},{"offset":0.812,"color":"#000"},{"offset":0.812,"color":"#fff"},{"offset":0.815,"color":"#fff"},{"offset":0.815,"color":"#000"},{"offset":0.817,"color":"#000"},{"offset":0.817,"color":"#fff"},{"offset":0.820,"color":"#fff"},
{"offset":0.820,"color":"#000"},{"offset":0.822,"color":"#000"},{"offset":0.822,"color":"#fff"},{"offset":0.825,"color":"#fff"},{"offset":0.825,"color":"#000"},{"offset":0.827,"color":"#000"},{"offset":0.827,"color":"#fff"},{"offset":0.830,"color":"#fff"},
{"offset":0.830,"color":"#000"},{"offset":0.832,"color":"#000"},{"offset":0.832,"color":"#fff"},{"offset":0.835,"color":"#fff"},{"offset":0.835,"color":"#000"},{"offset":0.837,"color":"#000"},{"offset":0.837,"color":"#fff"},{"offset":0.840,"color":"#fff"},
{"offset":0.840,"color":"#000"},{"offset":0.842,"color":"#000"},{"offset":0.842,"color":"#fff"},{"offset":0.845,"color":"#fff"},{"offset":0.845,"color":"#000"},{"offset":0.847,"color":"#000"},{"offset":0.847,"color":"#fff"},{"offset":0.850,"color":"#fff"},
{"offset":0.850,"color":"#000"},{"offset":0.852,"color":"#000"},{"offset":0.852,"color":"#fff"},{"offset":0.855,"color":"#fff"},{"offset":0.855,"color":"#000"},{"offset":0.857,"color":"#000"},{"offset":0.857,"color":"#fff"},{"offset":0.860,"color":"#fff"},
{"offset":0.860,"color":"#000"},{"offset":0.862,"color":"#000"},{"offset":0.862,"color":"#fff"},{"offset":0.865,"color":"#fff"},{"offset":0.865,"color":"#000"},{"offset":0.867,"color":"#000"},{"offset":0.867,"color":"#fff"},{"offset":0.870,"color":"#fff"},
{"offset":0.870,"color":"#000"},{"offset":0.872,"color":"#000"},{"offset":0.872,"color":"#fff"},{"offset":0.875,"color":"#fff"},{"offset":0.875,"color":"#000"},{"offset":0.877,"color":"#000"},{"offset":0.877,"color":"#fff"},{"offset":0.880,"color":"#fff"},
{"offset":0.880,"color":"#000"},{"offset":0.882,"color":"#000"},{"offset":0.882,"color":"#fff"},{"offset":0.885,"color":"#fff"},{"offset":0.885,"color":"#000"},{"offset":0.887,"color":"#000"},{"offset":0.887,"color":"#fff"},{"offset":0.890,"color":"#fff"},
{"offset":0.890,"color":"#000"},{"offset":0.892,"color":"#000"},{"offset":0.892,"color":"#fff"},{"offset":0.895,"color":"#fff"},{"offset":0.895,"color":"#000"},{"offset":0.897,"color":"#000"},{"offset":0.897,"color":"#fff"},{"offset":0.900,"color":"#fff"},
{"offset":0.900,"color":"#000"},{"offset":0.902,"color":"#000"},{"offset":0.902,"color":"#fff"},{"offset":0.905,"color":"#fff"},{"offset":0.905,"color":"#000"},{"offset":0.907,"color":"#000"},{"offset":0.907,"color":"#fff"},{"offset":0.910,"color":"#fff"},
{"offset":0.910,"color":"#000"},{"offset":0.912,"color":"#000"},{"offset":0.912,"color":"#fff"},{"offset":0.915,"color":"#fff"},{"offset":0.915,"color":"#000"},{"offset":0.917,"color":"#000"},{"offset":0.917,"color":"#fff"},{"offset":0.920,"color":"#fff"},
{"offset":0.920,"color":"#000"},{"offset":0.922,"color":"#000"},{"offset":0.922,"color":"#fff"},{"offset":0.925,"color":"#fff"},{"offset":0.925,"color":"#000"},{"offset":0.927,"color":"#000"},{"offset":0.927,"color":"#fff"},{"offset":0.930,"color":"#fff"},
{"offset":0.930,"color":"#000"},{"offset":0.932,"color":"#000"},{"offset":0.932,"color":"#fff"},{"offset":0.935,"color":"#fff"},{"offset":0.935,"color":"#000"},{"offset":0.937,"color":"#000"},{"offset":0.937,"color":"#fff"},{"offset":0.940,"color":"#fff"},
{"offset":0.940,"color":"#000"},{"offset":0.942,"color":"#000"},{"offset":0.942,"color":"#fff"},{"offset":0.945,"color":"#fff"},{"offset":0.945,"color":"#000"},{"offset":0.947,"color":"#000"},{"offset":0.947,"color":"#fff"},{"offset":0.950,"color":"#fff"},
{"offset":0.950,"color":"#000"},{"offset":0.952,"color":"#000"},{"offset":0.952,"color":"#fff"},{"offset":0.955,"color":"#fff"},{"offset":0.955,"color":"#000"},{"offset":0.957,"color":"#000"},{"offset":0.957,"color":"#fff"},{"offset":0.960,"color":"#fff"},
{"offset":0.960,"color":"#000"},{"offset":0.962,"color":"#000"},{"offset":0.962,"color":"#fff"},{"offset":0.965,"color":"#fff"},{"offset":0.965,"color":"#000"},{"offset":0.967,"color":"#000"},{"offset":0.967,"color":"#fff"},{"offset":0.970,"color":"#fff"},
{"offset":0.970,"color":"#000"},{"offset":0.972,"color":"#000"},{"offset":0.972,"color":"#fff"},{"offset":0.975,"color":"#fff"},{"offset":0.975,"color":"#000"},{"offset":0.977,"color":"#000"},{"offset":0.977,"color":"#fff"},{"offset":0.980,"color":"#fff"},
{"offset":0.980,"color":"#000"},{"offset":0.982,"color":"#000"},{"offset":0.982,"color":"#fff"},{"offset":0.985,"color":"#fff"},{"offset":0.985,"color":"#000"},{"offset":0.987,"color":"#000"},{"offset":0.987,"color":"#fff"},{"offset":0.990,"color":"#fff"},
{"offset":0.990,"color":"#000"},{"offset":0.992,"color":"#000"},{"offset":0.992,"color":"#fff"},{"offset":0.995,"color":"#fff"},{"offset":0.995,"color":"#000"},{"offset":0.997,"color":"#000"},{"offset":0.997,"color":"#fff"},{"offset":1.000,"color":"#fff"}
    ]}},
    "encoding": {
      "x": {"field": "periods", "type": "ordinal", "sort": "ascending", "scale": {"type": "point", "padding": 0},
        "axis": {"orient": "bottom", "offset": 0, "title": null, "domain": false, "labels": false, "ticks": true, "tickSize": 47, "tickWidth": 1, "tickColor": "#000", "tickOffset": -20.34,
          "values": ["2000-1","2000-2","2000-3","2000-4","2001-1","2001-2","2001-3","2001-4","2002-1","2002-2","2002-3","2002-4","2003-1","2003-2","2003-3","2003-4","2004-1","2004-2","2004-3","2004-4"]}},
      "y": {"field": "iep", "type": "quantitative", "stack": null, "scale": {"domain": [0, 100], "nice": false},
        "axis": {"orient": "right", "offset": 0, "title": null, "values": [0, 10, 20, 30, 40, 50, 60, 70, 80, 90, 100], "labels": false, "domain": false, "tickSize": 22}},
      "y2": {"datum": 0}
    }
  },
  {
    "transform": [
      {"fold": ["iep", "rup", "maz"], "as": ["serija", "vertiba"]},
      {"stack": "vertiba", "groupby": ["periods"], "as": ["v0", "v1"]},
      {"filter": "datum.serija != 'maz'"}
    ],
    "mark": {"type": "line", "stroke": "#404040", "strokeWidth": 1},
    "encoding": {
      "x": {"field": "periods", "type": "ordinal", "sort": "ascending", "scale": {"type": "point", "padding": 0},
        "axis": {"orient": "bottom", "offset": 0, "title": null, "domain": false, "labels": false, "ticks": true, "tickSize": 92, "tickWidth": 1, "tickColor": "#000", "tickOffset": -20.34,
          "values": ["2000-1", "2001-1", "2002-1", "2003-1", "2004-1"]}},
      "y": {"field": "v1", "type": "quantitative", "stack": null, "scale": {"domain": [0, 100], "nice": false},
        "axis": {"orient": "left", "offset": 20, "title": null, "labels": false, "ticks": false, "domain": true, "domainColor": "#404040"}},
      "detail": {"field": "serija", "type": "nominal"}
    }
  },
  {
    "mark": {"type": "line", "strokeWidth": 3},
    "encoding": {
      "x": {"field": "periods", "type": "ordinal", "sort": "ascending", "scale": {"type": "point", "padding": 0},
        "axis": {"orient": "bottom", "offset": 0, "title": null, "domain": false, "labels": false, "ticks": true, "tickSize": 92, "tickWidth": 1, "tickColor": "#000", "tickOffset": 20.34,
          "values": ["2004-4"]}},
      "y": {"field": "cena", "type": "quantitative", "scale": {"domain": [0, 1.8], "nice": false},
        "axis": {"orient": "right", "offset": 22, "title": "Ls/kg", "values": [0, 0.2, 0.4, 0.6, 0.8, 1, 1.2, 1.4, 1.6, 1.8],
          "labelExpr": "datum.value == 0 ? '0' : replace(format(datum.value, '.2f'), '.', ',')",
          "tickSize": 8, "labelPadding": 10, "domain": true, "domainColor": "#000",
          "labelFontWeight": "bold", "labelFontSize": 22,
          "titleFontWeight": "bold", "titleFontSize": 22, "titleAngle": 270, "titleBaseline": "top", "titlePadding": 4}},
      "color": {"datum": "cena", "type": "nominal"}
    }
  },
  {
    "mark": {"type": "point", "filled": true, "size": 80, "color": "#000080", "opacity": 1},
    "encoding": {
      "x": {"field": "periods", "type": "ordinal", "sort": "ascending", "scale": {"type": "point", "padding": 0},
        "axis": {"orient": "bottom", "offset": 0, "title": null, "domain": false, "ticks": false, "labelAngle": 0, "labelOverlap": false,
          "values": ["2000-2", "2001-2", "2002-2", "2003-2", "2004-2"], "labelOffset": 20.34,
          "labelExpr": "split(datum.value,'-')[0] + '.'",
          "labelFontWeight": "bold", "labelFontSize": 22, "labelPadding": 65}},
      "y": {"field": "cena", "type": "quantitative", "scale": {"domain": [0, 1.8], "nice": false}, "axis": null}
    }
  }
],
"resolve": {"scale": {"y": "independent"}, "axis": {"x": "independent", "y": "independent"}}
}
